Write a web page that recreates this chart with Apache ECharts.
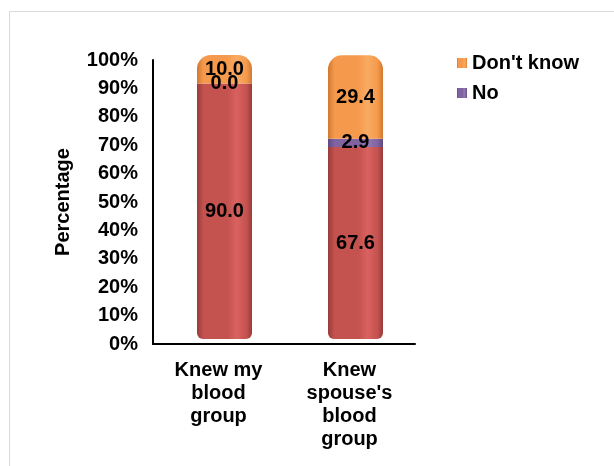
<!DOCTYPE html>
<html>
<head>
<meta charset="utf-8">
<script src="https://cdn.jsdelivr.net/npm/echarts@6/dist/echarts.min.js"></script>
<style>
  html, body { margin: 0; padding: 0; background: #fff; }
  #chart { width: 614px; height: 466px; }
</style>
</head>
<body>
<div id="chart"></div>
<script>
// Survey results: share of respondents by answer, per question
const categories = ["Knew my\nblood\ngroup", "Knew\nspouse's\nblood\ngroup"];
const yesValues = [90.0, 67.6];
const noValues = [0.0, 2.9];
const dontKnowValues = [10.0, 29.4];
const yTicks = { min: 0, max: 100, interval: 10 };

const FONT = "Liberation Sans, Arial, sans-serif";
const FS = 20;

// horizontal gradient that gives each bar a rounded, cylindrical look
function cylinder(dark, base, light) {
  return new echarts.graphic.LinearGradient(0, 0, 1, 0, [
    { offset: 0, color: dark },
    { offset: 0.12, color: base },
    { offset: 0.55, color: base },
    { offset: 0.72, color: light },
    { offset: 0.9, color: base },
    { offset: 1, color: dark }
  ]);
}

const labelStyle = {
  show: true,
  position: 'inside',
  color: '#000',
  fontFamily: FONT,
  fontWeight: 'bold',
  fontSize: FS,
  formatter: p => p.value.toFixed(1)
};

const textStyle = { color: '#000', fontFamily: FONT, fontWeight: 'bold', fontSize: FS };

const chart = echarts.init(document.getElementById('chart'), null, { renderer: 'canvas' });
chart.setOption({
  animation: false,
  backgroundColor: '#fff',
  graphic: [{
    type: 'rect',
    shape: { x: 9.5, y: 11.5, width: 640, height: 480 },
    style: { fill: 'none', stroke: '#d9d9d9', lineWidth: 1 },
    silent: true
  }],
  // grid 0 holds the bars, grid 1 draws the axes and labels
  grid: [
    { left: 159, top: 55, width: 262, height: 284 },
    { left: 153, top: 60, width: 262, height: 284 }
  ],
  legend: {
    data: [
      { name: "Don't know", icon: 'rect' },
      { name: 'No', icon: 'rect' }
    ],
    orient: 'vertical',
    left: 452,
    top: 48,
    itemWidth: 10,
    itemHeight: 10,
    itemGap: 10,
    textStyle: textStyle
  },
  xAxis: [
    { type: 'category', gridIndex: 0, data: categories, show: false },
    {
      type: 'category',
      gridIndex: 1,
      data: categories,
      axisLine: { lineStyle: { color: '#000', width: 2 } },
      axisTick: { show: false },
      axisLabel: Object.assign({ lineHeight: 23, margin: 15, interval: 0 }, textStyle)
    }
  ],
  yAxis: [
    { type: 'value', gridIndex: 0, min: yTicks.min, max: yTicks.max, show: false, splitLine: { show: false } },
    {
      type: 'value',
      gridIndex: 1,
      min: yTicks.min,
      max: yTicks.max,
      interval: yTicks.interval,
      name: 'Percentage',
      nameLocation: 'middle',
      nameRotate: 90,
      nameGap: 80,
      nameTextStyle: textStyle,
      splitLine: { show: false },
      axisLine: { show: true, lineStyle: { color: '#000', width: 2 } },
      axisTick: { show: false },
      axisLabel: Object.assign({ margin: 15, formatter: '{value}%' }, textStyle)
    }
  ],
  series: [
    {
      name: 'Yes',
      type: 'bar',
      stack: 'total',
      barWidth: 55,
      data: yesValues,
      itemStyle: {
        color: cylinder('#973c39', '#c4524f', '#d9625f'),
        borderRadius: [0, 0, 6, 6]
      },
      label: labelStyle
    },
    {
      name: 'No',
      type: 'bar',
      stack: 'total',
      barWidth: 55,
      data: noValues,
      itemStyle: { color: cylinder('#5f4880', '#8064a2', '#9379b5') },
      label: labelStyle
    },
    {
      name: "Don't know",
      type: 'bar',
      stack: 'total',
      barWidth: 55,
      data: dontKnowValues,
      itemStyle: {
        color: cylinder('#d2782f', '#f59a4c', '#f8ab63'),
        borderRadius: [14, 14, 0, 0]
      },
      label: labelStyle
    }
  ]
});
</script>
</body>
</html>
